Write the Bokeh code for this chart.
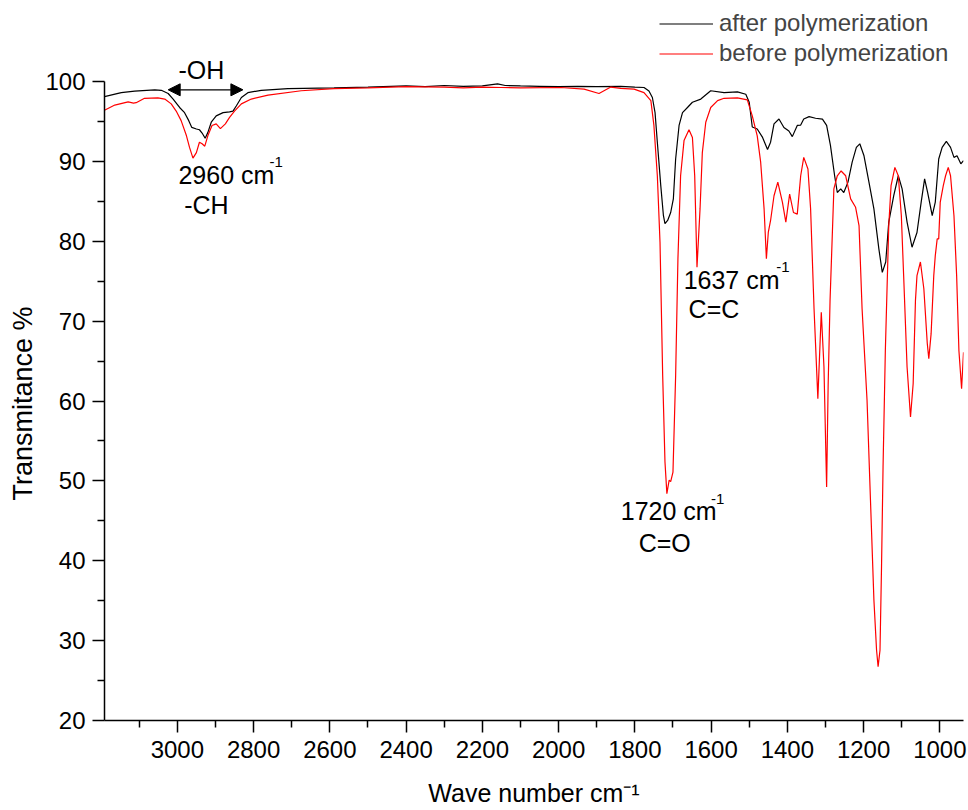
from bokeh.plotting import figure
from bokeh.models import (Range1d, FixedTicker, Legend, LegendItem, Arrow,
                          NormalHead, Label, Title)
from bokeh.embed import file_html
from bokeh.resources import INLINE

FONT = "Liberation Sans"

# ---- data: after polymerization (black) ----
after_wn = [3191, 3147, 3112, 3059, 3042, 3024, 3011, 2994, 2981, 2970, 2962, 2950,
            2942, 2935, 2927, 2920, 2911, 2898, 2880, 2863, 2854, 2845, 2832, 2815,
            2780, 2710, 2589, 2500, 2400, 2350, 2300, 2250, 2200, 2160, 2140, 2100,
            2050, 2000, 1950, 1900, 1837, 1800, 1776, 1763, 1754, 1747, 1741, 1732,
            1725, 1721, 1714, 1706, 1699, 1693, 1684, 1675, 1662, 1649, 1627, 1601,
            1566, 1531, 1509, 1500, 1492, 1479, 1465, 1452, 1444, 1435, 1422, 1409,
            1396, 1387, 1374, 1365, 1357, 1343, 1326, 1308, 1297, 1287, 1276, 1269,
            1260, 1252, 1241, 1230, 1219, 1210, 1199, 1186, 1173, 1160, 1151, 1142,
            1134, 1121, 1109, 1099, 1086, 1073, 1060, 1049, 1040, 1032, 1020, 1012,
            1003, 994, 983, 972, 963, 955, 945, 938]
after_t = [98.1, 98.6, 98.8, 98.96, 98.9, 98.5, 97.8, 96.75, 96.1, 95.1, 94.25, 94.05,
           93.96, 93.55, 92.9, 93.6, 94.9, 95.7, 96.1, 96.2, 96.3, 96.96, 98.0, 98.6,
           98.9, 99.1, 99.2, 99.3, 99.45, 99.35, 99.5, 99.4, 99.45, 99.7, 99.5, 99.45,
           99.4, 99.35, 99.4, 99.35, 99.4, 99.3, 99.25, 98.8, 98.0, 96.1, 92.4, 86.96,
           83.2, 82.2, 82.6, 83.6, 85.3, 90.3, 94.5, 96.1, 96.75, 97.4, 97.8, 98.84,
           98.6, 98.7, 98.4, 97.4, 94.3, 94.05, 93.0, 91.5, 92.4, 94.7, 95.3, 94.25,
           93.8, 93.1, 94.5, 94.55, 95.3, 95.6, 95.4, 95.3, 94.5, 92.0, 88.2, 86.1,
           86.55, 86.1, 87.4, 89.9, 91.75, 92.2, 90.7, 87.4, 84.05, 79.05, 76.1, 77.4,
           82.4, 85.7, 88.2, 86.55, 82.4, 79.25, 81.1, 84.9, 87.8, 86.1, 83.2, 84.9,
           90.3, 91.75, 92.5, 91.75, 90.5, 90.7, 89.7, 90.1]

# ---- data: before polymerization (red) ----
before_wn = [3191, 3164, 3129, 3115, 3108, 3086, 3051, 3033, 3016, 3003, 2990, 2976,
             2968, 2959, 2950, 2942, 2935, 2928, 2920, 2909, 2898, 2887, 2874, 2863,
             2850, 2832, 2806, 2762, 2675, 2589, 2500, 2400, 2300, 2250, 2200, 2150,
             2100, 1994, 1933, 1894, 1863, 1837, 1802, 1776, 1758, 1750, 1741, 1734,
             1727, 1721, 1716, 1710, 1706, 1700, 1693, 1687, 1680, 1671, 1658, 1649,
             1643, 1637, 1629, 1623, 1614, 1601, 1583, 1566, 1531, 1505, 1492, 1479,
             1470, 1461, 1455, 1450, 1444, 1435, 1425, 1413, 1404, 1394, 1384, 1374,
             1365, 1357, 1346, 1339, 1330, 1320, 1311, 1304, 1297, 1293, 1288, 1278,
             1269, 1259, 1247, 1234, 1221, 1212, 1204, 1191, 1182, 1173, 1166, 1162,
             1157, 1153, 1149, 1143, 1134, 1128, 1118, 1109, 1101, 1095, 1086, 1077,
             1070, 1064, 1060, 1051, 1042, 1033, 1029, 1023, 1016, 1012, 1007, 1003,
             999, 991, 985, 978, 972, 963, 956, 950, 943, 938]
before_t = [96.4, 97.05, 97.46, 97.3, 97.35, 97.9, 97.96, 97.8, 97.2, 96.3, 95.1, 93.2,
            91.75, 90.4, 91.1, 92.4, 92.2, 91.9, 93.2, 94.5, 94.7, 94.1, 94.7, 95.5,
            96.3, 97.2, 97.8, 98.3, 98.84, 99.1, 99.2, 99.35, 99.3, 99.2, 99.3, 99.25,
            99.2, 99.25, 99.05, 98.5, 99.3, 99.15, 99.05, 98.6, 97.6, 94.5, 88.2, 79.9,
            63.2, 52.4, 48.4, 50.1, 49.9, 51.1, 63.2, 77.8, 88.2, 92.6, 93.96, 93.0,
            88.2, 76.75, 84.05, 91.1, 94.9, 96.75, 97.6, 97.9, 97.96, 97.7, 95.7, 93.2,
            89.9, 84.05, 77.8, 81.1, 82.6, 85.7, 87.4, 84.9, 82.4, 85.9, 83.6, 83.4,
            88.2, 90.5, 89.05, 84.05, 71.55, 60.3, 71.1, 64.25, 49.25, 62.0, 72.6, 86.55,
            88.2, 88.8, 88.2, 85.3, 84.25, 81.96, 71.55, 60.1, 47.6, 35.1, 28.8, 26.75,
            28.8, 39.25, 51.75, 66.3, 81.96, 86.96, 89.25, 88.2, 83.2, 75.7, 64.25, 58.0,
            62.2, 72.6, 75.7, 77.4, 74.05, 67.2, 65.3, 68.4, 75.7, 78.2, 80.3, 80.3,
            84.9, 86.96, 88.2, 89.25, 88.2, 83.2, 75.7, 66.3, 61.55, 66.1]

series_names = ["after polymerization", "before polymerization"]

# ---- ticks ----
x_ticks = list(range(1000, 3001, 200))
x_minor = list(range(1100, 3101, 200))
y_ticks = list(range(20, 101, 10))
y_minor = list(range(25, 100, 10))

# ---- annotations ----
ann_text = ["-OH", "2960 cm", "-CH", "1637 cm", "C=C", "1720 cm", "C=O"]
ann_x = [2997, 2997, 2982, 1672, 1659, 1837, 1790]
ann_y = [101.5, 88.32, 84.6, 75.21, 71.58, 46.17, 42.16]
sup_text = ["-1", "-1", "-1"]
sup_x = [2758, 1429, 1600]
sup_y = [89.9, 76.75, 47.7]
oh_arrow = dict(x_start=3024, x_end=2828, y=98.96)

x_title = "Wave number cm\u207b\u00b9"
y_title = "Transmitance %"

p = figure(width=968, height=810, x_range=Range1d(3191, 938), y_range=Range1d(20, 109.14),
           output_backend="svg", toolbar_location=None,
           min_border_left=103, min_border_right=5, min_border_top=8, min_border_bottom=90)
p.outline_line_color = None
p.xgrid.visible = False
p.ygrid.visible = False

p.xaxis.ticker = FixedTicker(ticks=x_ticks, minor_ticks=x_minor)
p.yaxis.ticker = FixedTicker(ticks=y_ticks, minor_ticks=y_minor)
p.yaxis.bounds = (20, 100)
for ax in (p.xaxis[0], p.yaxis[0]):
    ax.axis_line_color = "black"
    ax.axis_line_width = 1.5
    ax.major_tick_line_color = "black"
    ax.minor_tick_line_color = "black"
    ax.major_tick_line_width = 1.5
    ax.minor_tick_line_width = 1.5
    ax.major_tick_in = 0
    ax.major_tick_out = 12
    ax.minor_tick_in = 0
    ax.minor_tick_out = 7
    ax.major_label_text_font = FONT
    ax.major_label_text_font_size = "24px"
    ax.major_label_text_color = "black"
p.xaxis.major_label_standoff = 8
p.yaxis.major_label_standoff = 7
p.xaxis.axis_label = x_title
p.xaxis.axis_label_text_font = FONT
p.xaxis.axis_label_text_font_size = "25px"
p.xaxis.axis_label_text_font_style = "normal"
p.xaxis.axis_label_text_color = "black"
p.xaxis.axis_label_standoff = 18

p.add_layout(Title(text=y_title, align="left", offset=220, text_font=FONT,
                   text_font_size="27px", text_font_style="normal",
                   text_color="black"), "left")

r_after = p.line(after_wn, after_t, line_color="black", line_width=1.2)
r_before = p.line(before_wn, before_t, line_color="#ff0000", line_width=1.2)

legend = Legend(items=[LegendItem(label=series_names[0], renderers=[r_after]),
                       LegendItem(label=series_names[1], renderers=[r_before])],
                location=(555, 653), orientation="vertical",
                label_text_font=FONT, label_text_font_size="24px",
                glyph_width=54, glyph_height=27, label_height=27,
                label_standoff=6, spacing=2, padding=0, margin=0,
                border_line_color=None, background_fill_alpha=0)
p.add_layout(legend)

for t, x, y in zip(ann_text, ann_x, ann_y):
    p.add_layout(Label(x=x, y=y, text=t, text_font=FONT, text_font_size="25px",
                       text_align="left", text_baseline="alphabetic", text_color="black"))
for t, x, y in zip(sup_text, sup_x, sup_y):
    p.add_layout(Label(x=x, y=y, text=t, text_font=FONT, text_font_size="15px",
                       text_align="left", text_baseline="alphabetic", text_color="black"))

p.add_layout(Arrow(start=NormalHead(size=12, fill_color="black", line_color="black"),
                   end=NormalHead(size=12, fill_color="black", line_color="black"),
                   x_start=oh_arrow["x_start"], x_end=oh_arrow["x_end"],
                   y_start=oh_arrow["y"], y_end=oh_arrow["y"],
                   line_color="black", line_width=1.2))

open("out.html", "w").write(file_html(p, INLINE))
